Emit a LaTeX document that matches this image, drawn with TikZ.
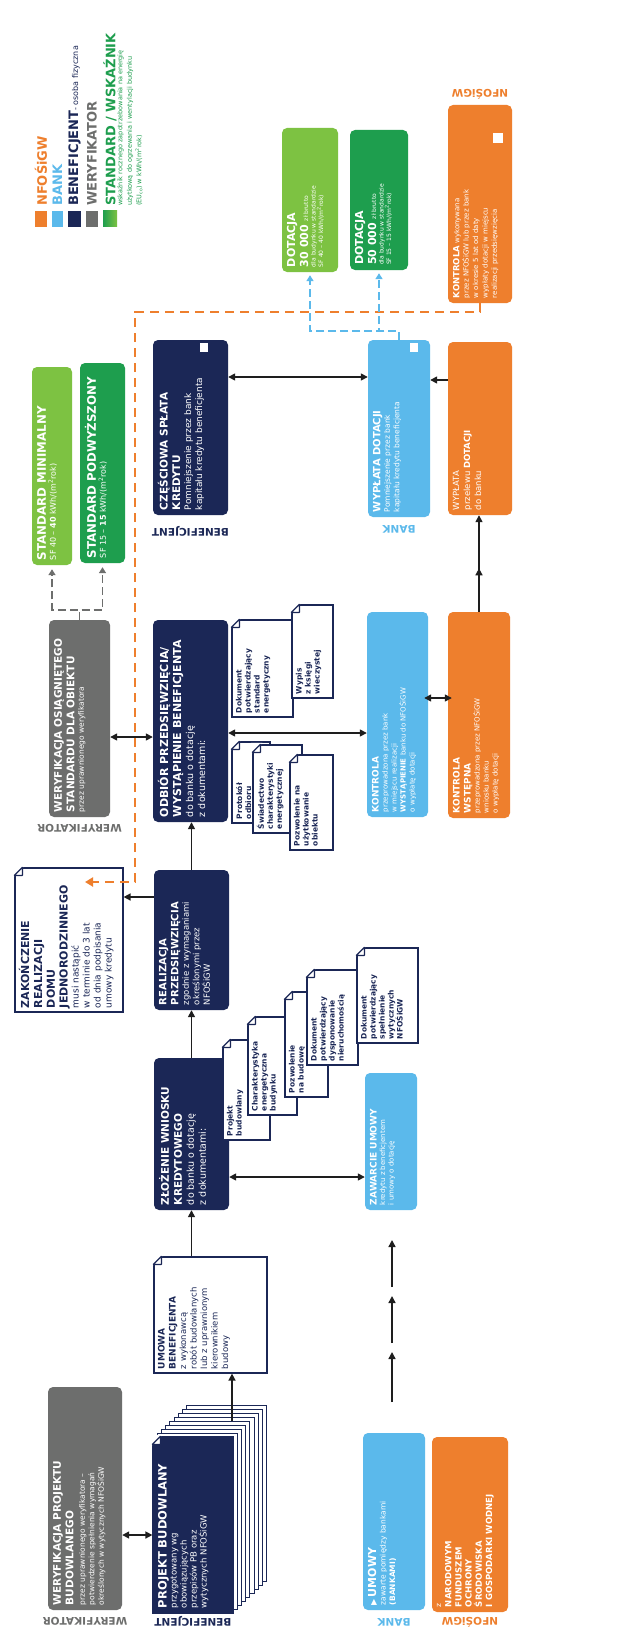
\documentclass[tikz,border=0pt]{standalone}
\usepackage{fontspec}
\setmainfont{DejaVu Sans}
\usetikzlibrary{arrows.meta,calc,decorations.markings}
\definecolor{navy}{HTML}{1B2756}
\definecolor{lblue}{HTML}{5BB9EB}
\definecolor{orng}{HTML}{EE7F2D}
\definecolor{wgray}{HTML}{6D6E6D}
\definecolor{lgreen}{HTML}{7DC242}
\definecolor{dgreen}{HTML}{1E9E4E}
\definecolor{ink}{HTML}{1E1E1E}
\newcommand{\fs}[2]{\fontsize{#1}{#2}\selectfont}
\newcommand{\rbx}[3]{\rotatebox{90}{\begin{minipage}[c][#2pt][t]{#1pt}\raggedright #3\end{minipage}}}
\newcommand{\fold}[1]{%
  \fill[white] ($(#1.north west)+(-1.5,-1.5)$) -- ($(#1.north west)+(10,-1.5)$) -- ($(#1.north west)+(-1.5,10)$) -- cycle;
  \draw[navy, line width=1.2pt, line join=round, fill=white] ($(#1.north west)+(8,0)$) -- ($(#1.north west)+(8,8)$) -- ($(#1.north west)+(0,8)$) -- cycle;}
\tikzset{
  bx/.style={rounded corners=5pt, inner sep=5pt, text=white},
  navyb/.style={bx, fill=navy},
  blueb/.style={bx, fill=lblue},
  orngb/.style={bx, fill=orng},
  grayb/.style={bx, fill=wgray},
  lgb/.style={bx, fill=lgreen},
  dgb/.style={bx, fill=dgreen},
  docb/.style={draw=navy, fill=white, line width=1.2pt, inner sep=4pt, text=navy},
  pagesheet/.style={draw=navy, fill=white, line width=0.9pt},
  lab/.style={rotate=180, inner sep=0pt, font=\bfseries\fs{10.5}{12}},
  lgtxt/.style={rotate=90, anchor=west, inner sep=0pt, font=\bfseries\fs{13}{15}},
  arr/.style={draw=ink, line width=1.5pt, -{Triangle[length=7pt,width=7pt]}},
  dbl/.style={draw=ink, line width=1.5pt, {Triangle[length=7pt,width=7pt]}-{Triangle[length=7pt,width=7pt]}},
  midarr/.style={postaction={decorate}, decoration={markings, mark=at position 0.45 with {\arrow[ink]{Triangle[length=7pt,width=7pt]}}}},
  odash/.style={draw=orng, line width=2.4pt, dash pattern=on 9pt off 6pt, -{Triangle[length=8pt,width=9pt]}},
  bdash/.style={draw=lblue, line width=1.6pt, dash pattern=on 8pt off 4pt, -{Triangle[length=6pt,width=7pt]}, shorten >=3pt},
  gdash/.style={draw=wgray, line width=1.6pt, dash pattern=on 8pt off 4pt, -{Triangle[length=6pt,width=7pt]}, shorten >=4pt},
  sq/.style={fill=white},
}
\begin{document}
\begin{tikzpicture}[x=1pt,y=-1pt]
\fill[white] (0,0) rectangle (631,1629);
\useasboundingbox (0,0) rectangle (631,1629);

% ---------- legend ----------
\fill[orng] (35,211) rectangle (47,227);
\fill[lblue] (52,211) rectangle (63,227);
\fill[navy] (68,211) rectangle (81,227);
\fill[wgray] (86,211) rectangle (98,227);
\shade[left color=dgreen, right color=lgreen] (103,211) rectangle (117,227);
\node[lgtxt, text=orng] (lg1) at (41,206) {NFOŚiGW};
\node[lgtxt, text=lblue] (lg2) at (57.5,206) {BANK};
\node[lgtxt, text=navy] (lg3) at (74.5,206) {BENEFICJENT{\mdseries\fs{8}{9}- osoba fizyczna}};
\node[lgtxt, text=wgray] (lg4) at (92,206) {WERYFIKATOR};
\node[lgtxt, text=dgreen] (lg5) at (110,206) {STANDARD / WSKAŹNIK};
\node[rotate=90, anchor=north west, inner sep=0pt, text=dgreen, align=left, font=\fs{6.5}{9.5}] (lg6) at (117,206)
  {wskaźnik rocznego zapotrzebowania na energię\\użytkową do ogrzewania i wentylacji budynku\\(EU\textsubscript{co}) w kWh/(m\textsuperscript{2}rok)};

% ---------- column 1 ----------
\node[grayb] (wpb) at (85,1498.5) {\rbx{213}{64}{{\bfseries\fs{10.5}{12.5}WERYFIKACJA PROJEKTU\\BUDOWLANEGO\par}\vspace{2pt}{\fs{7.5}{9.5}przez uprawnionego weryfikatora –\\potwierdzenie spełnienia wymagań\\określonych w wytycznych NFOŚiGW\par}}};
\foreach \i in {8,7,...,1} \draw[pagesheet] ({153+4.2*\i},{1437-4*\i}) rectangle ({233+4.2*\i},{1613-4*\i});
\node[navyb, sharp corners, draw=navy, line width=1.2pt] (pb) at (193,1525) {\rbx{166}{70}{{\bfseries\fs{11.5}{14}PROJEKT BUDOWLANY\par}{\fs{8.5}{10}przygotowany wg\\obowiązujących\\przepisów PB oraz\\wytycznych NFOŚiGW\par}}};
\fold{pb}
\node[blueb] (umowy) at (394,1521.5) {\rbx{167}{52}{{\bfseries\fs{11}{13}{\fs{8}{10}▶}\,UMOWY\par}{\fs{7.5}{9.5}zawarte pomiędzy bankami\\\textbf{(BANKAMI)}\par}}};
\node[orngb] (nfo) at (470,1524.5) {\rbx{165}{66}{{\fs{7.5}{9}z\par}{\bfseries\fs{8.5}{10.2}NARODOWYM\\FUNDUSZEM\\OCHRONY\\ŚRODOWISKA\\I GOSPODARKI WODNEJ\par}}};

% ---------- column 2 ----------
\node[docb] (umowa) at (210.5,1315) {\rbx{108}{105}{{\bfseries\fs{9}{11}UMOWA\\BENEFICJENTA\par}{\fs{8.5}{10.5}z wykonawcą\\robót budowlanych\\lub z uprawnionym\\kierownikiem\\budowy\par}}};
\fold{umowa}
\node[navyb] (zloz) at (191.5,1134) {\rbx{142}{65}{{\bfseries\fs{10.5}{13}ZŁOŻENIE WNIOSKU\\KREDYTOWEGO\par}{\fs{9.5}{12}do banku o dotację\\z dokumentami:\par}}};
\node[docb] (d1) at (246.5,1090) {\rbx{92}{39}{{\bfseries\fs{7.5}{9}Projekt\\budowlany\par}}};
\fold{d1}
\node[docb] (d2) at (272.5,1066) {\rbx{90}{41}{{\bfseries\fs{7.5}{9}Charakterystyka\\energetyczna\\budynku\par}}};
\fold{d2}
\node[docb] (d3) at (306.5,1044.5) {\rbx{97}{35}{{\bfseries\fs{7.5}{9}Pozwolenie\\na budowę\par}}};
\fold{d3}
\node[docb] (d4) at (332.5,1017.5) {\rbx{87}{43}{{\bfseries\fs{7.5}{9}Dokument\\potwierdzający\\dysponowanie\\nieruchomością\par}}};
\fold{d4}
\node[docb] (d5) at (387.5,995.5) {\rbx{87}{53}{{\bfseries\fs{7.5}{9}Dokument\\potwierdzający\\spełnienie\\wytycznych\\NFOŚiGW\par}}};
\fold{d5}
\node[blueb] (zaw) at (391,1141.5) {\rbx{127}{42}{{\bfseries\fs{9}{11}ZAWARCIE UMOWY\par}{\fs{7}{8.5}kredytu z beneficjentem\\i umowy o dotację\par}}};

% ---------- column 3 ----------
\node[docb] (zak) at (69,940) {\rbx{136}{100}{{\bfseries\fs{11}{12.8}ZAKOŃCZENIE\\REALIZACJI\\DOMU\\JEDNORODZINNEGO\par}{\fs{9}{11}musi nastąpić\\w terminie do 3 lat\\od dnia podpisania\\umowy kredytu\par}}};
\fold{zak}
\node[navyb] (real) at (191.5,940) {\rbx{130}{65}{{\bfseries\fs{10}{12}REALIZACJA\\PRZEDSIĘWZIĘCIA\par}{\fs{8.5}{10.5}zgodnie z wymaganiami\\określonymi przez\\NFOŚiGW\par}}};

% ---------- column 4 ----------
\node[grayb] (wos) at (79.5,718.5) {\rbx{187}{51}{{\bfseries\fs{10.5}{12.5}WERYFIKACJA OSIĄGNIĘTEGO\\STANDARDU DLA OBIEKTU\par}{\fs{7.5}{9.5}przez uprawnionego weryfikatora\par}}};
\node[navyb] (odb) at (190.5,721) {\rbx{192}{65}{{\bfseries\fs{11}{13}ODBIÓR PRZEDSIĘWZIĘCIA/\\WYSTĄPIENIE BENEFICJENTA\par}{\fs{9.5}{12}do banku o dotację\\z dokumentami:\par}}};
\node[docb] (u1) at (262.5,668.5) {\rbx{89}{53}{{\bfseries\fs{7.5}{9}Dokument\\potwierdzający\\standard\\energetyczny\par}}};
\fold{u1}
\node[docb] (u2) at (312.5,651.5) {\rbx{85}{33}{{\bfseries\fs{7.5}{9}Wypis\\z księgi\\wieczystej\par}}};
\fold{u2}
\node[docb] (l1) at (251,782.5) {\rbx{73}{30}{{\bfseries\fs{7.5}{9}Protokół\\odbioru\par}}};
\fold{l1}
\node[docb] (l2) at (277.5,789) {\rbx{80}{41}{{\bfseries\fs{7.5}{9}Świadectwo\\charakterystyki\\energetycznej\par}}};
\fold{l2}
\node[docb] (l3) at (311.5,802.5) {\rbx{87}{35}{{\bfseries\fs{7.5}{9}Pozwolenie na\\użytkowanie\\obiektu\par}}};
\fold{l3}
\node[blueb] (kon) at (397.5,714.5) {\rbx{195}{51}{{\bfseries\fs{9}{11}KONTROLA\par}{\fs{7}{9}przeprowadzona przez bank\\w miejscu realizacji\\\textbf{WYSTĄPIENIE} banku do NFOŚiGW\\o wypłatę dotacji\par}}};
\node[orngb] (kw) at (479,715) {\rbx{196}{52}{{\bfseries\fs{9}{11}KONTROLA\\WSTĘPNA\par}{\fs{7}{9}przeprowadzona przez NFOŚiGW\\wniosku banku\\o wypłatę dotacji\par}}};

% ---------- column 5 ----------
\node[lgb] (smin) at (52,466) {\rbx{188}{30}{{\bfseries\fs{11.8}{14}STANDARD MINIMALNY\par}{\fs{8}{10}SF 40 – \textbf{40} kWh/(m\textsuperscript{2}rok)\par}}};
\node[dgb] (spod) at (102.5,463) {\rbx{190}{35}{{\bfseries\fs{11.8}{14}STANDARD PODWYŻSZONY\par}{\fs{8}{10}SF 15 – \textbf{15} kWh/(m\textsuperscript{2}rok)\par}}};
\node[navyb] (czes) at (190.5,427.5) {\rbx{165}{65}{{\bfseries\fs{10.5}{12.5}CZĘŚCIOWA SPŁATA\\KREDYTU\par}{\fs{9}{11}Pomniejszenie przez bank\\kapitału kredytu beneficjenta\par}}};
\fill[sq] ($(czes.north east)+(-28,3)$) rectangle ($(czes.north east)+(-20,12)$);
\node[blueb] (wypb) at (399,428.5) {\rbx{167}{52}{{\bfseries\fs{10}{12}WYPŁATA DOTACJI\par}{\fs{7.5}{9.5}Pomniejszenie przez bank\\kapitału kredytu beneficjenta\par}}};
\fill[sq] ($(wypb.north east)+(-20,3)$) rectangle ($(wypb.north east)+(-12,12)$);
\node[orngb] (wypo) at (480,428.5) {\rbx{163}{54}{{\fs{8.5}{11}WYPŁATA\\przelewu \textbf{DOTACJI}\\do banku\par}}};

% ---------- column 6 ----------
\node[lgb] (dot1) at (310,200) {\rbx{134}{46}{{\bfseries\fs{11}{13}DOTACJA\par}{\bfseries\fs{11}{13}30 000 {\mdseries\fs{6}{13}zł brutto}\par}{\fs{6}{7.5}dla budynku w standardzie\\SF 40 – 40 kWh/(m\textsuperscript{2}rok)\par}}};
\node[dgb] (dot2) at (379,200) {\rbx{130}{48}{{\bfseries\fs{11}{13}DOTACJA\par}{\bfseries\fs{11}{13}50 000 {\mdseries\fs{6}{13}zł brutto}\par}{\fs{6}{7.5}dla budynku w standardzie\\SF 15 – 15 kWh/(m\textsuperscript{2}rok)\par}}};
\node[orngb] (kot) at (480,204) {\rbx{188}{54}{{\fs{7}{9.4}\textbf{\fs{8.5}{9.4}KONTROLA} wykonywana\\przez NFOŚiGW lub przez bank\\w okresie 5 lat od daty\\wypłaty dotacji w miejscu\\realizacji przedsięwzięcia\par}}};
\fill[sq] ($(kot.north east)+(-19,28)$) rectangle ($(kot.north east)+(-9,38)$);

% ---------- role labels ----------
\node[lab, text=wgray] (lwpb) at (85,1621) {WERYFIKATOR};
\node[lab, text=navy] (lpb) at (193,1621) {BENEFICJENT};
\node[lab, text=lblue] (lum) at (394,1622) {BANK};
\node[lab, text=orng] (lnfo) at (470,1622) {NFOŚiGW};
\node[lab, text=wgray] (lwos) at (79.5,828) {WERYFIKATOR};
\node[lab, text=navy] (lczes) at (190.5,531) {BENEFICJENT};
\node[lab, text=lblue] (lwyp) at (399,529) {BANK};
\node[lab, text=orng] (lkot) at (480,94) {NFOŚiGW};

% ---------- connectors ----------
\draw[dbl] (wpb.east |- 0,1535) -- (pb.west |- 0,1535);
\coordinate (stk) at (232,1421);
\draw[arr] (stk) -- (stk |- umowa.south);
\draw[arr] (umowa.north -| zloz.south) -- (zloz.south);
\draw[dbl] (zloz.east |- 0,1177) -- (zaw.west |- 0,1177);
\draw[arr] (zloz.north) -- (zloz.north |- real.south);
\draw[arr] (real.west |- 0,897) -- (zak.east |- 0,897);
\draw[arr] (real.north) -- (real.north |- odb.south);
\draw[dbl] (wos.east |- 0,737) -- (odb.west |- 0,737);
\draw[dbl] (odb.east |- 0,733) -- (kon.west |- 0,733);
\draw[dbl, shorten <=-4pt, shorten >=-4pt] (kon.east |- 0,698) -- (kw.west |- 0,698);
\draw[arr, midarr] (kw.north) -- (kw.north |- wypo.south);
\draw[arr] (wypo.west |- 0,380) -- (wypb.east |- 0,380);
\draw[dbl] (czes.east |- 0,377) -- (wypb.west |- 0,377);
\draw[gdash] (wos.north) -- ++(0,-10) -| (smin.south);
\draw[gdash] (wos.north) -- ++(0,-10) -| (spod.south);
\coordinate (oc1) at (135,312);
\coordinate (oend) at (85,882);
\draw[odash] (kot.south) |- (oc1) |- (oend);
\draw[bdash] (wypb.north) -- ++(0,-9) -| (dot1.south);
\draw[bdash] (wypb.north) -- ++(0,-9) -| (dot2.south);
\coordinate (s1) at (392,1402); \coordinate (e1) at (392,1352);
\coordinate (s2) at (392,1343); \coordinate (e2) at (392,1296);
\coordinate (s3) at (392,1287); \coordinate (e3) at (392,1240);
\draw[arr] (s1) -- (e1);
\draw[arr] (s2) -- (e2);
\draw[arr] (s3) -- (e3);
\end{tikzpicture}
\end{document}
